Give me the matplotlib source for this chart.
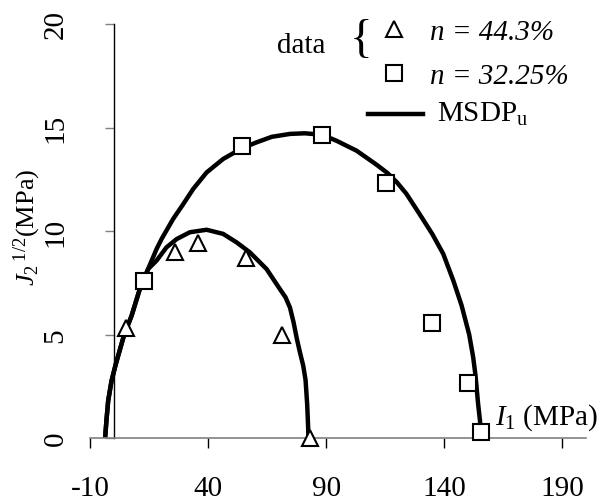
import matplotlib
matplotlib.use("Agg")
import matplotlib.pyplot as plt
from matplotlib.transforms import Affine2D

plt.rcParams['font.family'] = ['Liberation Serif', 'DejaVu Serif']
plt.rcParams['mathtext.fontset'] = 'custom'
plt.rcParams['mathtext.rm'] = 'Liberation Serif'
plt.rcParams['mathtext.it'] = 'Liberation Serif:italic'
plt.rcParams['axes.unicode_minus'] = False

# measured points
tri_i1 = [5.3, 25.8, 35.8, 56.0, 71.4, 83.3]
tri_j2 = [5.3, 9.0, 9.4, 8.7, 5.0, 0.0]
sq_i1 = [12.9, 54.4, 88.3, 115.5, 135.0, 150.1, 155.5]
sq_j2 = [7.6, 14.1, 14.65, 12.3, 5.55, 2.65, 0.3]

# MSDP_u envelope, n = 44.3%
msdp1_i1 = [-3.6, -3.0, -2.3, -0.9, 0.9, 2.9, 4.5, 7.6, 11.1, 14.6, 18.2, 22.4,
            26.7, 32.3, 39.4, 46.4, 52.1, 57.7, 64.8, 70.4, 72.8, 74.7, 76.2,
            77.6, 79.0, 80.3, 81.3, 82.0, 82.4, 82.5]
msdp1_j2 = [0.0, 0.9, 1.8, 2.75, 3.56, 4.36, 5.0, 5.9, 7.2, 8.16, 8.57, 9.21,
            9.61, 9.94, 10.06, 9.86, 9.45, 8.97, 8.16, 7.2, 6.8, 6.3, 5.6,
            4.8, 4.1, 3.5, 2.8, 1.6, 0.5, 0.0]

# MSDP_u envelope, n = 32.25%
msdp2_i1 = [-3.6, -3.0, -2.3, -0.9, 0.9, 2.9, 4.5, 7.6, 11.1, 14.6, 18.2, 20.3,
            25.2, 29.5, 33.7, 39.4, 46.4, 54.4, 60.5, 67.0, 74.7, 81.0, 88.3,
            94.4, 102.9, 111.4, 116.0, 120.0, 124.0, 129.7, 135.0, 139.6, 143.9,
            147.4, 150.6, 152.3, 153.3, 154.4, 155.2, 155.5]
msdp2_j2 = [0.0, 0.9, 1.8, 2.75, 3.56, 4.36, 5.0, 5.9, 7.2, 8.16, 9.13, 9.61,
            10.58, 11.3, 12.03, 12.83, 13.48, 14.0, 14.28, 14.55, 14.69, 14.72,
            14.65, 14.36, 13.88, 13.2, 12.8, 12.35, 11.8, 10.8, 9.85, 8.9, 7.6,
            6.4, 5.0, 3.9, 3.0, 1.63, 0.82, 0.0]

xticks = [-10, 40, 90, 140, 190]
yticks = [0, 5, 10, 15, 20]
labels = ['n = 44.3%', 'n = 32.25%', r'MSDP$_\mathrm{u}$']

W, H = 610, 502
fig = plt.figure(figsize=(W / 100, H / 100), dpi=100)
ax = fig.add_axes([90 / W, 1 - 439 / H, 495.8 / W, 414 / H])

# pixel coordinates from the top-left corner, for the key block
px = Affine2D().scale(1.0, -1.0).translate(0, H)

mk = dict(ms=11, mfc='white', mec='black', mew=1.5)

ax.plot(msdp1_i1, msdp1_j2, color='black', lw=3.2, zorder=2)
ax.plot(msdp2_i1, msdp2_j2, color='black', lw=3.2, zorder=2)
ax.plot(tri_i1, tri_j2, ls='none', marker='^', zorder=3, clip_on=False, **mk)
ax.plot(sq_i1, sq_j2, ls='none', marker='s', zorder=3, clip_on=False, **mk)

ax.set_xlim(-10, 200)
ax.set_ylim(0, 20)
ax.set_xticks(xticks)
ax.set_yticks(yticks)

ax.spines['top'].set_visible(False)
ax.spines['right'].set_visible(False)
ax.spines['left'].set_position(('data', 0))
ax.spines['left'].set_color('black')
ax.spines['bottom'].set_color('#808080')
ax.spines['left'].set_linewidth(1)
ax.spines['bottom'].set_linewidth(1.2)

ax.tick_params(axis='x', direction='out', length=7, width=1, color='black',
               labelsize=21, pad=20)
ax.tick_params(axis='y', direction='out', length=6.5, width=1, color='#808080',
               labelsize=21, pad=26, labelrotation=90)
for t in ax.get_yticklabels():
    t.set_verticalalignment('center')

fig.text(27 / W, 1 - 227 / H, r'$J_2\,{}^{1/2}$(MPa)', rotation=90,
         ha='center', va='center', fontsize=19)
ax.text(161.5, 0.68, r'$I_1$ (MPa)', fontsize=21, va='baseline', ha='left')

# key: "data {" bracket, two marker rows and the curve row
fig.text(301, 53, 'data', transform=px, fontsize=21, ha='center', va='baseline')
fig.text(361, 41, '{', transform=px, fontsize=34, ha='center', va='center')
fig.add_artist(plt.Line2D([394], [30], transform=px, marker='^', **mk))
fig.add_artist(plt.Line2D([394], [74], transform=px, marker='s', **mk))
fig.add_artist(plt.Line2D([368, 423], [115, 115], transform=px, color='black', lw=3.2))
fig.text(430, 40, labels[0], transform=px, fontsize=21, style='italic', va='baseline')
fig.text(430, 84, labels[1], transform=px, fontsize=21, style='italic', va='baseline')
fig.text(437, 122, labels[2], transform=px, fontsize=21, va='baseline')

fig.savefig('out.png', dpi=100)
